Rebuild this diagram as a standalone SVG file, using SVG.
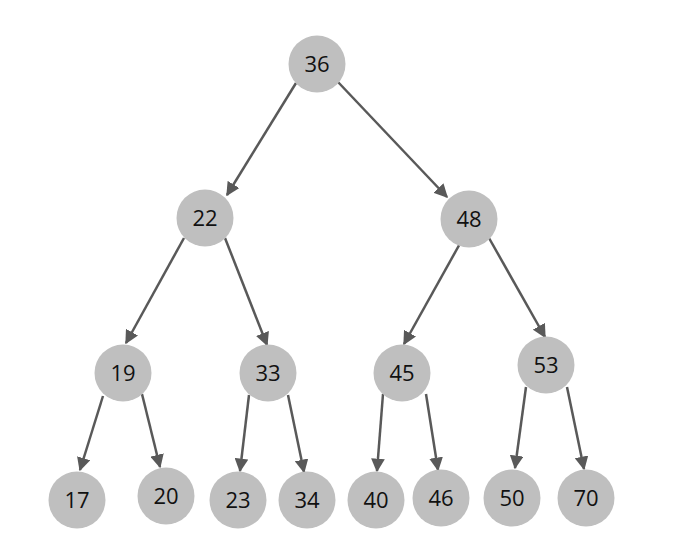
<svg xmlns="http://www.w3.org/2000/svg" width="678" height="557" viewBox="0 0 678 557">
<defs>
<marker id="ah" viewBox="0 0 10 10" refX="9" refY="5" markerWidth="5.5" markerHeight="5.5" markerUnits="strokeWidth" orient="auto">
<path d="M0,0 L10,5 L0,10 Z" fill="#595959"/>
</marker>
<style>
.n circle{fill:#bfbfbf;}
.n text{font-family:"Open Sans","Liberation Sans",sans-serif;font-size:22px;fill:#111111;text-anchor:middle;dominant-baseline:central;}
.e line{stroke:#595959;stroke-width:2.5;marker-end:url(#ah);}
</style>
</defs>
<rect width="678" height="557" fill="#ffffff"/>
<g id="edges" class="e">
<line x1="296" y1="83" x2="227" y2="195"/>
<line x1="338" y1="82" x2="447" y2="197"/>
<line x1="184" y1="238" x2="126" y2="343"/>
<line x1="225" y1="238" x2="267" y2="345"/>
<line x1="462" y1="240" x2="404" y2="344"/>
<line x1="489" y1="238" x2="545" y2="337"/>
<line x1="103" y1="396" x2="80" y2="470"/>
<line x1="142" y1="394" x2="160" y2="467"/>
<line x1="249" y1="395" x2="240" y2="471"/>
<line x1="288" y1="395" x2="304" y2="472"/>
<line x1="383" y1="394" x2="377" y2="471"/>
<line x1="426" y1="394" x2="438" y2="470"/>
<line x1="526" y1="387" x2="515" y2="468"/>
<line x1="567" y1="387" x2="584" y2="469"/>
</g>
<g id="n36" class="n"><circle cx="317" cy="64" r="28.5"/><text x="317" y="63">36</text></g>
<g id="n22" class="n"><circle cx="205" cy="218" r="28.5"/><text x="205" y="217">22</text></g>
<g id="n48" class="n"><circle cx="469" cy="219" r="28.5"/><text x="469" y="218">48</text></g>
<g id="n19" class="n"><circle cx="123" cy="373" r="28.5"/><text x="123" y="372">19</text></g>
<g id="n33" class="n"><circle cx="268" cy="373" r="28.5"/><text x="268" y="372">33</text></g>
<g id="n45" class="n"><circle cx="402" cy="373" r="28.5"/><text x="402" y="372">45</text></g>
<g id="n53" class="n"><circle cx="546" cy="365" r="28.5"/><text x="546" y="364">53</text></g>
<g id="n17" class="n"><circle cx="77" cy="500" r="28.5"/><text x="77" y="499">17</text></g>
<g id="n20" class="n"><circle cx="166" cy="496" r="28.5"/><text x="166" y="495">20</text></g>
<g id="n23" class="n"><circle cx="238" cy="500" r="28.5"/><text x="238" y="499">23</text></g>
<g id="n34" class="n"><circle cx="307" cy="500" r="28.5"/><text x="307" y="499">34</text></g>
<g id="n40" class="n"><circle cx="376" cy="500" r="28.5"/><text x="376" y="499">40</text></g>
<g id="n46" class="n"><circle cx="441" cy="498" r="28.5"/><text x="441" y="497">46</text></g>
<g id="n50" class="n"><circle cx="512" cy="498" r="28.5"/><text x="512" y="497">50</text></g>
<g id="n70" class="n"><circle cx="586" cy="498" r="28.5"/><text x="586" y="497">70</text></g>
</svg>
